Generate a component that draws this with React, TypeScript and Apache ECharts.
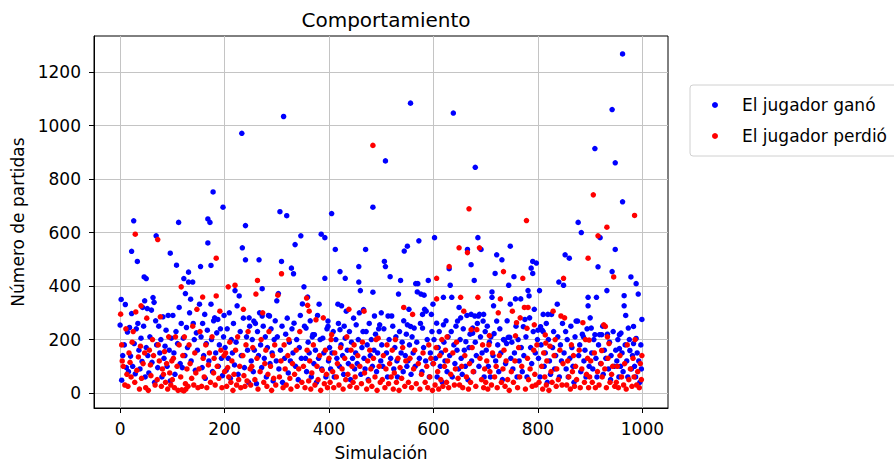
import React, { useEffect, useRef } from "react";
import * as echarts from "echarts";

const titulo = "Comportamiento";
const nombreX = "Simulación";
const nombreY = "Número de partidas";
const serieGano = "El jugador ganó";
const seriePerdio = "El jugador perdió";
const xTicks = [0, 200, 400, 600, 800, 1000];
const yTicks = [0, 200, 400, 600, 800, 1000, 1200];

// [simulación, número de partidas] — el jugador ganó
const ganoPartidas: number[][] = [
  [0,254],[2,350],[3,48],[5,140],[8,180],[10,331],[12,95],[14,228],[16,80],[18,245],[20,138],[22,530],[22,297],[24,100],[26,644],[27,185],[29,72],[31,240],[33,492],[34,260],[36,160],[38,90],[40,205],[42,118],[43,320],[45,250],[46,434],[47,345],[48,60],
  [50,428],[50,170],[52,316],[53,140],[55,75],[57,210],[60,310],[61,115],[63,357],[65,339],[66,40],[68,270],[69,588],[70,180],[72,95],[74,250],[76,150],[78,200],[80,60],[82,285],[84,130],[86,175],[88,235],[90,100],[92,290],[94,160],[96,523],[96,45],[98,205],
  [101,290],[103,150],[105,70],[107,230],[108,478],[110,185],[112,638],[113,320],[115,110],[117,260],[119,95],[121,205],[122,428],[124,140],[125,372],[127,245],[129,170],[131,452],[131,415],[133,300],[135,351],[136,120],[139,415],[140,260],[142,200],[144,85],[146,225],[148,160],
  [152,332],[154,473],[155,210],[157,95],[158,260],[160,140],[162,294],[163,55],[165,185],[167,235],[168,651],[168,561],[170,120],[172,638],[174,477],[174,332],[175,200],[177,80],[178,752],[179,270],[181,281],[183,150],[185,225],[187,275],[188,100],[190,180],[192,240],[194,130],[196,65],[197,695],[198,210],[199,290],
  [201,170],[203,85],[205,240],[207,130],[209,300],[211,55],[213,200],[215,150],[217,260],[219,105],[220,383],[222,190],[224,326],[226,70],[228,363],[230,230],[232,140],[233,971],[234,543],[236,280],[238,95],[240,626],[240,498],[242,210],[244,160],[246,40],[247,281],[248,250],
  [251,120],[253,200],[255,80],[256,269],[257,160],[259,260],[261,35],[263,230],[265,140],[266,498],[267,300],[269,180],[271,95],[272,390],[272,288],[274,250],[276,130],[278,210],[280,60],[282,170],[284,290],[286,288],[287,110],[289,240],[291,150],[293,45],[295,200],[297,270],[299,120],
  [300,345],[301,210],[303,372],[304,90],[306,678],[307,160],[309,492],[310,250],[311,40],[313,1034],[315,130],[317,220],[319,663],[320,280],[322,75],[324,190],[326,120],[328,467],[329,240],[331,150],[332,446],[333,261],[335,555],[336,100],[338,200],[341,50],[343,170],[345,290],[346,588],[347,130],[349,333],
  [352,397],[353,250],[355,130],[356,243],[357,80],[359,359],[360,190],[362,150],[364,270],[366,60],[368,210],[369,218],[371,110],[372,218],[374,160],[376,40],[378,290],[380,130],[381,332],[383,200],[385,594],[386,90],[388,205],[390,150],[392,581],[392,429],[394,60],[396,240],[398,269],[398,249],[399,120],
  [401,170],[403,90],[405,671],[406,150],[408,230],[410,60],[412,537],[413,200],[415,130],[417,332],[418,260],[420,100],[421,454],[421,237],[423,180],[424,326],[426,140],[428,70],[429,250],[431,429],[431,205],[433,306],[435,160],[437,110],[439,230],[441,50],[443,190],[445,130],[447,280],[449,90],
  [451,150],[452,255],[454,110],[456,200],[457,473],[457,415],[458,300],[460,383],[461,70],[463,170],[465,230],[466,312],[467,130],[469,90],[470,537],[471,230],[473,180],[475,50],[477,260],[479,140],[481,200],[483,100],[484,695],[484,377],[486,160],[487,288],[489,220],[491,80],[493,150],[495,240],[497,255],[499,120],
  [500,300],[501,180],[503,100],[505,240],[506,492],[508,868],[508,473],[510,150],[512,60],[513,288],[515,200],[517,435],[518,130],[520,288],[522,250],[524,90],[526,170],[528,210],[530,120],[531,60],[533,370],[535,230],[537,421],[538,150],[540,190],[542,80],[543,270],[544,531],[546,140],[548,220],[549,100],
  [550,549],[550,255],[551,120],[553,313],[554,180],[556,1084],[556,249],[557,70],[559,210],[561,150],[563,243],[565,100],[566,409],[568,190],[569,378],[570,409],[572,569],[573,130],[575,260],[576,370],[578,80],[579,294],[579,243],[581,170],[582,366],[583,313],[585,120],[586,306],[588,200],[590,421],[592,60],[594,150],[596,294],[597,230],[599,332],[599,110],
  [601,200],[602,581],[604,130],[606,261],[607,60],[609,170],[611,230],[613,100],[615,150],[617,40],[619,358],[619,255],[620,190],[622,120],[624,270],[626,80],[628,210],[630,465],[631,140],[632,403],[634,230],[635,358],[636,60],[638,1047],[639,180],[641,110],[643,250],[645,160],[646,269],[648,90],[649,320],
  [651,200],[652,281],[653,130],[655,70],[657,240],[659,160],[661,100],[662,192],[664,290],[665,537],[666,50],[668,170],[670,220],[672,294],[672,480],[673,120],[675,243],[675,224],[677,80],[678,421],[679,288],[680,844],[680,190],[682,140],[684,260],[685,581],[686,288],[687,100],[688,294],[690,210],[691,537],[693,150],[695,269],[696,294],[697,60],[699,230],
  [701,160],[703,250],[705,100],[707,190],[709,60],[710,210],[712,378],[712,358],[714,140],[715,326],[716,222],[718,447],[719,120],[721,517],[721,269],[723,180],[725,80],[727,240],[729,150],[731,498],[732,50],[734,200],[736,198],[738,110],[740,185],[741,270],[743,208],[744,403],[746,208],[747,549],[747,332],[748,130],
  [750,190],[752,90],[754,435],[755,150],[757,352],[758,250],[760,60],[762,200],[764,120],[767,352],[768,170],[770,80],[772,248],[773,140],[775,275],[777,210],[779,60],[781,383],[783,363],[784,281],[786,170],[787,467],[788,110],[790,492],[790,447],[791,230],[793,313],[795,150],[797,486],[799,200],
  [800,235],[801,130],[803,383],[804,60],[805,248],[806,180],[808,235],[810,230],[810,294],[812,100],[814,150],[816,260],[818,40],[819,294],[820,200],[822,120],[824,70],[826,294],[828,170],[830,230],[832,90],[834,140],[837,332],[838,210],[840,415],[841,60],[843,180],[845,120],[847,260],[849,403],
  [850,150],[852,517],[853,230],[854,90],[856,200],[858,60],[860,504],[861,130],[863,250],[865,170],[867,100],[869,40],[871,210],[873,269],[876,269],[877,638],[878,140],[880,180],[882,80],[883,600],[885,220],[887,210],[888,120],[890,160],[892,60],[894,240],[896,358],[896,326],[898,100],[900,281],
  [902,243],[903,150],[905,90],[907,200],[909,914],[909,218],[911,130],[912,358],[913,60],[915,472],[916,180],[918,218],[919,581],[920,110],[922,218],[924,250],[925,70],[927,160],[930,130],[932,383],[933,220],[935,90],[937,190],[939,50],[940,140],[942,1060],[942,454],[944,230],[946,100],[948,861],[948,537],[949,160],
  [951,120],[953,200],[955,60],[956,218],[956,166],[958,100],[959,224],[961,150],[962,1268],[962,715],[963,80],[965,364],[965,326],[967,180],[968,290],[970,120],[972,60],[973,243],[975,200],[976,159],[978,434],[979,90],[981,140],[983,249],[983,185],[985,100],[987,60],[988,409],[988,204],[990,150],[992,370],[993,120],[995,40],[997,180],[998,90],[999,275]
];

// [simulación, número de partidas] — el jugador perdió
const perdioPartidas: number[][] = [
  [1,295],[3,180],[4,120],[6,100],[9,30],[11,240],[13,70],[15,25],[17,150],[19,115],[21,60],[23,190],[25,230],[28,40],[29,594],[30,303],[32,85],[35,135],[37,15],[39,175],[40,326],[41,55],[44,110],[47,150],[49,20],
  [51,280],[54,10],[56,160],[58,105],[59,65],[62,200],[64,140],[67,30],[71,50],[72,574],[73,180],[75,120],[77,285],[79,25],[81,90],[83,70],[85,155],[87,40],[89,110],[91,15],[93,210],[95,75],[97,30],[99,120],
  [100,50],[102,130],[104,20],[106,210],[109,100],[111,10],[113,180],[116,60],[117,397],[118,12],[120,140],[122,8],[123,210],[125,35],[126,15],[128,90],[130,25],[132,180],[134,110],[137,55],[139,250],[141,30],[143,150],[145,75],[147,313],[149,20],
  [151,90],[153,230],[156,25],[158,359],[159,130],[161,60],[164,180],[166,20],[169,105],[171,150],[173,40],[176,210],[179,75],[180,130],[182,30],[184,363],[184,504],[186,100],[189,55],[191,306],[193,160],[195,20],[199,140],
  [200,80],[202,150],[204,25],[206,95],[207,397],[208,60],[210,190],[212,40],[214,120],[216,10],[218,70],[220,403],[221,160],[223,30],[225,210],[227,50],[229,100],[231,20],[235,140],[236,313],[237,65],[239,25],[241,180],[243,45],[245,230],[249,90],
  [250,30],[252,100],[254,170],[258,50],[260,370],[262,130],[263,421],[264,15],[268,80],[270,200],[273,300],[275,40],[277,110],[279,160],[281,25],[283,70],[285,230],[288,100],[290,10],[292,140],[294,55],[296,180],[298,30],
  [302,366],[305,60],[308,120],[309,446],[312,20],[314,180],[316,90],[318,30],[321,140],[323,200],[325,55],[327,15],[330,110],[334,70],[337,160],[339,25],[342,90],[344,230],[348,40],
  [351,100],[354,20],[357,355],[358,160],[359,328],[361,45],[362,306],[363,120],[365,15],[367,75],[370,180],[373,30],[375,274],[377,100],[379,50],[382,140],[384,10],[387,85],[389,281],[391,35],[393,160],[395,70],[397,20],
  [400,130],[402,40],[404,200],[405,218],[407,80],[409,20],[411,150],[414,60],[416,110],[419,30],[422,170],[425,90],[427,15],[430,130],[432,50],[434,210],[436,70],[438,313],[440,25],[442,160],[444,100],[446,40],[448,180],
  [450,60],[453,20],[455,140],[459,100],[462,35],[464,190],[467,306],[468,75],[472,15],[474,120],[476,45],[478,160],[480,90],[482,25],[484,926],[485,130],[488,60],[490,200],[492,10],[494,205],[496,100],[498,40],
  [502,50],[504,140],[507,20],[509,90],[511,180],[514,35],[516,110],[519,60],[521,160],[523,15],[525,75],[527,200],[529,40],[532,130],[534,10],[536,95],[539,55],[541,170],[543,320],[545,25],[547,120],
  [552,40],[555,130],[558,20],[560,294],[562,90],[564,160],[567,35],[571,110],[574,15],[577,70],[580,150],[584,40],[587,100],[589,20],[591,180],[593,60],[595,130],[598,10],
  [600,110],[603,30],[605,170],[606,429],[606,352],[608,80],[610,15],[612,140],[614,50],[616,200],[618,25],[621,100],[623,160],[625,40],[626,210],[627,120],[629,20],[630,473],[633,70],[637,150],[640,30],[642,90],[644,190],[647,55],[649,543],
  [650,30],[652,358],[654,100],[656,20],[658,306],[660,140],[663,60],[665,525],[667,15],[668,689],[669,110],[671,40],[672,237],[674,170],[676,80],[681,25],[683,237],[685,358],[688,543],[689,130],[692,50],[694,180],[696,20],[698,90],
  [700,40],[702,120],[704,15],[706,180],[707,215],[708,80],[711,30],[713,150],[717,60],[720,100],[722,20],[724,300],[726,140],[728,352],[730,40],[733,90],[734,454],[735,160],[737,25],[739,120],[742,50],[745,10],[749,80],
  [751,306],[753,40],[756,120],[757,214],[759,263],[761,20],[763,170],[765,60],[766,281],[769,100],[771,429],[774,320],[776,15],[778,645],[779,242],[780,130],[781,320],[782,50],[785,90],[789,25],[792,160],[793,255],[794,70],[796,30],[798,180],
  [802,40],[807,100],[809,15],[811,150],[813,60],[814,217],[815,187],[816,30],[817,120],[821,10],[823,175],[825,80],[827,40],[829,306],[831,140],[833,200],[835,25],[836,90],[839,50],[842,160],[844,288],[846,30],[848,110],[849,429],
  [851,281],[855,30],[857,120],[859,60],[862,15],[864,180],[866,80],[868,140],[870,25],[872,100],[874,50],[879,160],[881,20],[884,90],[886,263],[889,40],[891,200],[893,70],[895,130],[896,504],[897,20],[898,198],[899,60],
  [901,120],[904,40],[906,741],[908,150],[910,20],[914,80],[915,588],[917,30],[921,110],[922,159],[923,60],[926,255],[928,90],[929,249],[931,20],[932,620],[933,210],[934,130],[936,185],[938,40],[941,70],[943,100],[945,434],[947,25],
  [950,40],[952,100],[954,20],[957,140],[960,60],[964,30],[966,110],[969,15],[971,180],[974,50],[977,90],[980,25],[982,130],[984,60],[985,664],[986,200],[989,30],[991,80],[994,20],[996,110],[998,50],[999,140]
];

const FONT = "DejaVu Sans";
const plain = (v: number) => String(v);

export default function App() {
  const ref = useRef<HTMLDivElement>(null);
  useEffect(() => {
    document.body.style.margin = "0";
    const chart = echarts.init(ref.current!, null, { renderer: "svg" });
    chart.setOption({
      animation: false,
      backgroundColor: "#ffffff",
      title: {
        text: titulo,
        left: 381,
        top: 5,
        textAlign: "center",
        textStyle: { fontSize: 20, fontWeight: "normal", color: "#000", fontFamily: FONT },
      },
      legend: {
        orient: "vertical",
        left: 690,
        top: 85,
        padding: [10, 20, 10, 22],
        itemWidth: 6,
        itemHeight: 6,
        itemGap: 11,
        icon: "circle",
        backgroundColor: "#fff",
        borderColor: "#d0d0d0",
        borderWidth: 1,
        borderRadius: 3,
        textStyle: { fontSize: 17, color: "#000", fontFamily: FONT, lineHeight: 20, padding: [0, 0, 0, 19] },
        data: [serieGano, seriePerdio],
      },
      grid: {
        left: 94,
        top: 36,
        width: 574,
        height: 374,
        show: true,
        borderColor: "#000",
        borderWidth: 1,
        backgroundColor: "transparent",
      },
      xAxis: {
        type: "value",
        min: -50,
        max: 1049,
        name: nombreX,
        nameLocation: "middle",
        nameGap: 36,
        nameTextStyle: { fontSize: 17, color: "#000", fontFamily: FONT },
        axisLine: { show: true, onZero: false, lineStyle: { color: "#000" } },
        axisTick: { show: true, length: 5, customValues: xTicks, lineStyle: { color: "#000" } },
        axisLabel: { customValues: xTicks, formatter: plain, margin: 12, fontSize: 17, color: "#000", fontFamily: FONT },
        splitLine: { show: true, lineStyle: { color: "#c4c4c4", width: 1 } },
      },
      yAxis: {
        type: "value",
        min: -56,
        max: 1335,
        name: nombreY,
        nameLocation: "middle",
        nameGap: 57,
        nameTextStyle: { fontSize: 17, color: "#000", fontFamily: FONT },
        axisLine: { show: true, onZero: false, lineStyle: { color: "#000" } },
        axisTick: { show: true, length: 5, customValues: yTicks, lineStyle: { color: "#000" } },
        axisLabel: { customValues: yTicks, formatter: plain, margin: 13, fontSize: 17, color: "#000", fontFamily: FONT },
        splitLine: { show: true, lineStyle: { color: "#c4c4c4", width: 1 } },
      },
      series: [
        {
          name: serieGano,
          type: "scatter",
          data: ganoPartidas,
          symbol: "circle",
          symbolSize: 5.5,
          itemStyle: { color: "#0000ff", opacity: 1 },
        },
        {
          name: seriePerdio,
          type: "scatter",
          data: perdioPartidas,
          symbol: "circle",
          symbolSize: 5.5,
          itemStyle: { color: "#ff0000", opacity: 1 },
        },
      ],
    });
    return () => chart.dispose();
  }, []);
  return <div ref={ref} style={{ width: 894, height: 466 }} />;
}
